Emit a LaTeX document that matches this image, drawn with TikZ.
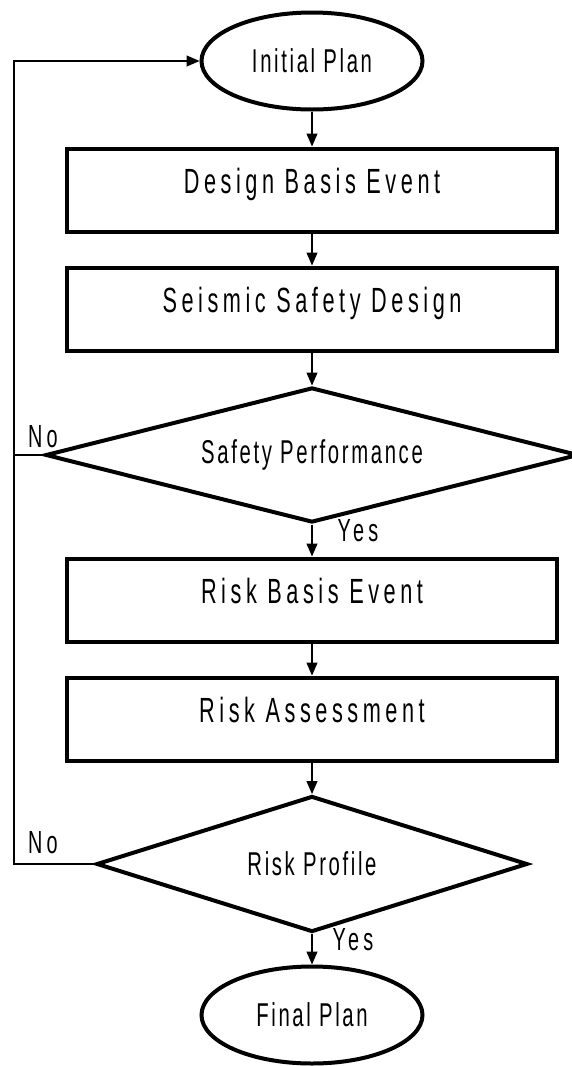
\documentclass[tikz,border=0pt]{standalone}
\usepackage{fontspec}
\newfontfamily\boxfont[LetterSpace=13,FakeStretch=0.62]{Liberation Sans}
\newfontfamily\decfont[LetterSpace=8,FakeStretch=0.615]{Liberation Sans}
\usetikzlibrary{shapes.geometric,arrows.meta,positioning}
\tikzset{
  stepbox/.style={draw, line width=4pt, minimum width=490pt, minimum height=83pt,
    inner sep=0pt, font=\boxfont\fontsize{35}{35}\selectfont, text height=24pt, text depth=18pt},
  terminal/.style={ellipse, draw, line width=4pt, minimum width=221pt, minimum height=97pt,
    inner sep=0pt, font=\decfont\fontsize{33}{33}\selectfont},
  decision/.style={diamond, draw, line width=4pt, inner sep=0pt,
    font=\decfont\fontsize{33}{33}\selectfont},
  flow/.style={-{Triangle[length=13pt,width=11pt]}, line width=1.3pt},
  lbl/.style={inner sep=0pt, font=\boxfont\fontsize{32}{32}\selectfont}
}
\begin{document}
\begin{tikzpicture}[x=1pt, y=-1pt]
  \useasboundingbox (0,0) rectangle (571,1066);
  % main column
  \node[terminal] (init) at (312,61) {Initial Plan};
  \node[stepbox] (dbe) at (312,190) {Design Basis Event};
  \node[stepbox] (ssd) at (312,309) {Seismic Safety Design};
  \node[decision, aspect=3.9, minimum width=533pt, minimum height=135pt] (sp) at (312,455) {Safety Performance};
  \node[stepbox] (rbe) at (312,600) {Risk Basis Event};
  \node[stepbox] (ra) at (312,719) {Risk Assessment};
  \node[decision, aspect=3.15, minimum width=431pt, minimum height=136pt] (rp) at (312,864) {Risk Profile};
  \node[terminal] (final) at (312,1015) {Final Plan};
  \coordinate (loop) at (14,0);
  % flow arrows
  \draw[flow] (init) -- (dbe);
  \draw[flow] (dbe) -- (ssd);
  \draw[flow] (ssd) -- (sp);
  \draw[flow] (sp) -- (rbe);
  \draw[flow] (rbe) -- (ra);
  \draw[flow] (ra) -- (rp);
  \draw[flow] (rp) -- (final);
  % feedback loops
  \draw[flow] (sp.west) -- (loop |- sp.west) |- (init.west);
  \draw[line width=1.3pt] (rp.west) -| (loop |- sp.west);
  % branch labels
  \node[lbl] (no1) at (43,437) {No};
  \node[lbl] (yes1) at (358,531) {Yes};
  \node[lbl] (no2) at (43,843) {No};
  \node[lbl] (yes2) at (353,940) {Yes};
\end{tikzpicture}
\end{document}
